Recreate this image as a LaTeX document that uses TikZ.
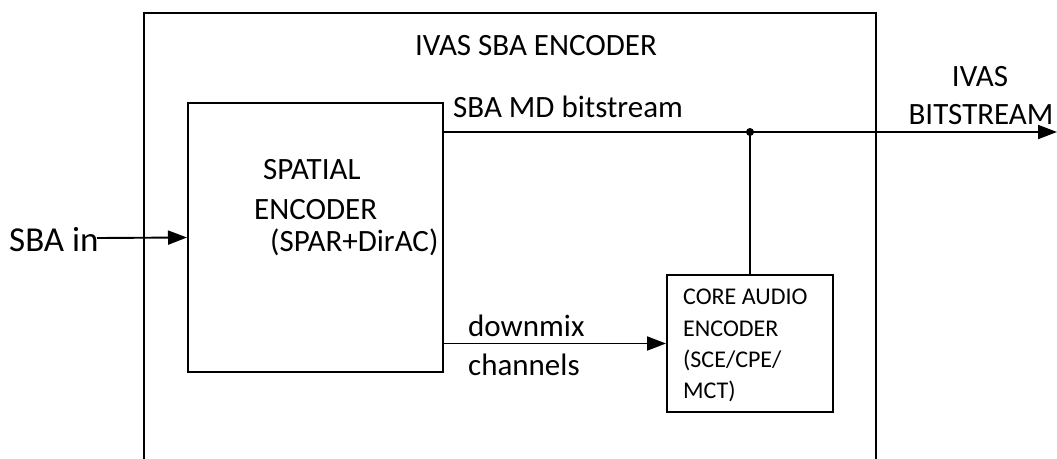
\documentclass[tikz,border=0pt]{standalone}
\usepackage{fontspec}
\setmainfont{Carlito}
\usetikzlibrary{positioning, arrows.meta, calc}

\tikzset{
  blk/.style={draw, line width=2pt, inner sep=0pt},
  wire/.style={line width=1.9pt},
  sig/.style={wire, -{Triangle[length=19pt,width=14pt]}},
  lbl/.style={inner sep=0pt, anchor=base west, font=\fontsize{31}{37}\selectfont},
  small/.style={lbl, font=\fontsize{24}{29}\selectfont},
}

\begin{document}
\begin{tikzpicture}[x=1pt, y=-1pt]
    \useasboundingbox (0,0) rectangle (1057,458);

    % Outer encoder frame, open at the bottom
    \draw[line width=2.6pt] (144,470) -- (144,13) -- (876,13) -- (876,470);
    \node[lbl, anchor=base] (title) at (536,55) {IVAS SBA ENCODER};

    % Spatial encoder block
    \node[blk, minimum width=255pt, minimum height=269pt] (spatial) at (315.5,237.5) {};
    \node[lbl] (sp1) at (263,179) {SPATIAL};
    \node[lbl] (sp2) at (254,219) {ENCODER};
    \node[lbl] (sp3) at (270,251) {(SPAR+DirAC)};

    % Core audio encoder block
    \node[blk, minimum width=166pt, minimum height=137pt] (core) at (750,343.5) {};
    \node[small] (co1) at (683,304) {CORE AUDIO};
    \node[small] (co2) at (683,336) {ENCODER};
    \node[small] (co3) at (683,367) {(SCE/CPE/};
    \node[small] (co4) at (683,398) {MCT)};

    % SBA input
    \node[lbl, font=\fontsize{35}{42}\selectfont] (sbain) at (9,251) {SBA in};
    \coordinate (in) at (97,238);
    \draw[sig] (in) -- (spatial.west);

    % Metadata bitstream to output
    \coordinate (md) at (443,132);
    \coordinate (out) at (1057,132);
    \coordinate (join) at (core.north |- md);
    \draw[sig] (md) -- (out);
    \node[lbl] (mdlbl) at (453,117) {SBA MD bitstream};
    \draw[wire] (core.north) -- (join);
    \fill (join) circle (4pt); % junction dot

    % Downmix channels into core encoder
    \draw[sig] (core.west -| spatial.east) -- (core.west);
    \node[lbl] (dmx) at (468,336) {downmix};
    \node[lbl] (chn) at (468,375) {channels};

    % Output label
    \node[lbl, anchor=base] (ivas) at (980,86) {IVAS};
    \node[lbl, anchor=base] (bits) at (981,124) {BITSTREAM};
\end{tikzpicture}
\end{document}
